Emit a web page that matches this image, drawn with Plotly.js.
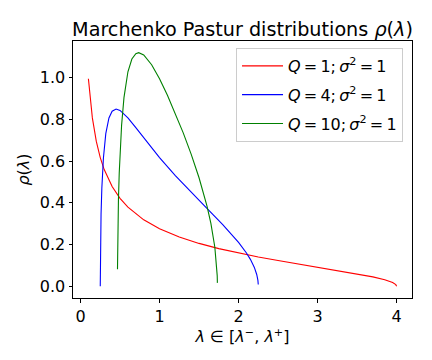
<!DOCTYPE html>
<html>
<head>
<meta charset="utf-8">
<script src="https://cdn.plot.ly/plotly-3.0.1.min.js"></script>
<style>html,body{margin:0;padding:0;background:#fff;}#chart{width:432px;height:360px;}</style>
</head>
<body>
<div id="chart"></div>
<script>
// Q = 1, sigma^2 = 1
const lamQ1 = [0.1, 0.12, 0.15, 0.2, 0.25, 0.3, 0.4, 0.5, 0.6, 0.8, 1.0, 1.25, 1.5, 1.75, 2.0, 2.25, 2.5, 2.75, 3.0, 3.25, 3.5, 3.7, 3.85, 3.95, 3.99, 4.0];
const rhoQ1 = [0.9939, 0.9050, 0.8063, 0.6937, 0.6164, 0.5589, 0.4775, 0.4211, 0.3789, 0.3183, 0.2757, 0.2361, 0.2055, 0.1805, 0.1592, 0.1404, 0.1233, 0.1073, 0.0919, 0.0765, 0.0602, 0.0453, 0.0314, 0.0179, 0.0080, 0.0];
// Q = 4, sigma^2 = 1
const lamQ4 = [0.25, 0.252, 0.26, 0.27, 0.29, 0.32, 0.36, 0.4, 0.45, 0.5, 0.6, 0.7, 0.8, 1.0, 1.2, 1.4, 1.6, 1.8, 1.9, 2.0, 2.1, 2.15, 2.2, 2.23, 2.245, 2.2495];
const rhoQ4 = [0.0, 0.1597, 0.3454, 0.4692, 0.6147, 0.7312, 0.8063, 0.8384, 0.8488, 0.8422, 0.8063, 0.7595, 0.7107, 0.6164, 0.5299, 0.4496, 0.3727, 0.2954, 0.2546, 0.2105, 0.1597, 0.1291, 0.0904, 0.0568, 0.0283, 0.0089];
// Q = 10, sigma^2 = 1
const lamQ10 = [0.468, 0.47, 0.475, 0.48, 0.49, 0.5, 0.52, 0.55, 0.6, 0.65, 0.7, 0.7364, 0.8, 0.9, 1.0, 1.1, 1.2, 1.3, 1.4, 1.5, 1.6, 1.65, 1.7, 1.72, 1.73, 1.7322];
const rhoQ10 = [0.0817, 0.1886, 0.3244, 0.4141, 0.5425, 0.6366, 0.7719, 0.9036, 1.0273, 1.0882, 1.1138, 1.1186, 1.1077, 1.0610, 0.9939, 0.9151, 0.8283, 0.7346, 0.6330, 0.5198, 0.3853, 0.3012, 0.1872, 0.1156, 0.0512, 0.0165];

const seriesNames = [
  '<i>Q</i>\u2009=\u20091;\u2009<i>σ</i><sup>2</sup>\u2009=\u20091',
  '<i>Q</i>\u2009=\u20094;\u2009<i>σ</i><sup>2</sup>\u2009=\u20091',
  '<i>Q</i>\u2009=\u200910;\u2009<i>σ</i><sup>2</sup>\u2009=\u20091'
];
const xTicks = [0, 1, 2, 3, 4];
const yTicks = [0.0, 0.2, 0.4, 0.6, 0.8, 1.0];

const FONT = 'DejaVu Sans, sans-serif';
const data = [
  {x: lamQ1, y: rhoQ1, name: seriesNames[0], legendgroup: 'g1', mode: 'lines', line: {color: '#ff0000', width: 1.1}},
  {x: lamQ4, y: rhoQ4, name: seriesNames[1], legendgroup: 'g2', mode: 'lines', line: {color: '#0000ff', width: 1.1}},
  {x: lamQ10, y: rhoQ10, name: seriesNames[2], legendgroup: 'g3', mode: 'lines', line: {color: '#008000', width: 1.1}}
];
const axisCommon = {
  showgrid: false, zeroline: false, showline: true, mirror: true,
  linecolor: '#000', linewidth: 1, ticks: 'outside', ticklen: 3.5, tickwidth: 1, tickcolor: '#000',
  tickfont: {family: FONT, size: 16, color: '#000'}
};
const layout = {
  width: 432, height: 360,
  margin: {l: 73, r: 20, t: 41, b: 62},
  paper_bgcolor: '#fff', plot_bgcolor: '#fff',
  font: {family: FONT, size: 16, color: '#000'},
  title: {text: 'Marchenko Pastur distributions <i>ρ</i>(<i>λ</i>)', font: {family: FONT, size: 19.2, color: '#000'},
          x: 0.5, xref: 'paper', xanchor: 'center', y: 1, yref: 'paper', yanchor: 'bottom', pad: {b: 5}},
  xaxis: Object.assign({}, axisCommon, {range: [-0.095, 4.195], tickvals: xTicks, ticktext: xTicks.map(String),
          title: {text: '<i>λ</i> ∈ [<i>λ</i><sup>−</sup>, <i>λ</i><sup>+</sup>]', font: {family: FONT, size: 16}, standoff: 3}}),
  yaxis: Object.assign({}, axisCommon, {range: [-0.0559, 1.1745], tickvals: yTicks, ticktext: yTicks.map(v => v.toFixed(1)),
          title: {text: '<i>ρ</i>(<i>λ</i>)', font: {family: FONT, size: 16}, standoff: 6}}),
  legend: {x: 0.9735, y: 0.973, xanchor: 'right', yanchor: 'top', bgcolor: 'rgba(255,255,255,0.8)',
           bordercolor: '#cccccc', borderwidth: 1, font: {family: FONT, size: 16, color: '#000'},
           traceorder: 'grouped', tracegroupgap: 5, itemwidth: 41},
  showlegend: true
};
Plotly.newPlot('chart', data, layout, {staticPlot: true, displayModeBar: false});
</script>
</body>
</html>
